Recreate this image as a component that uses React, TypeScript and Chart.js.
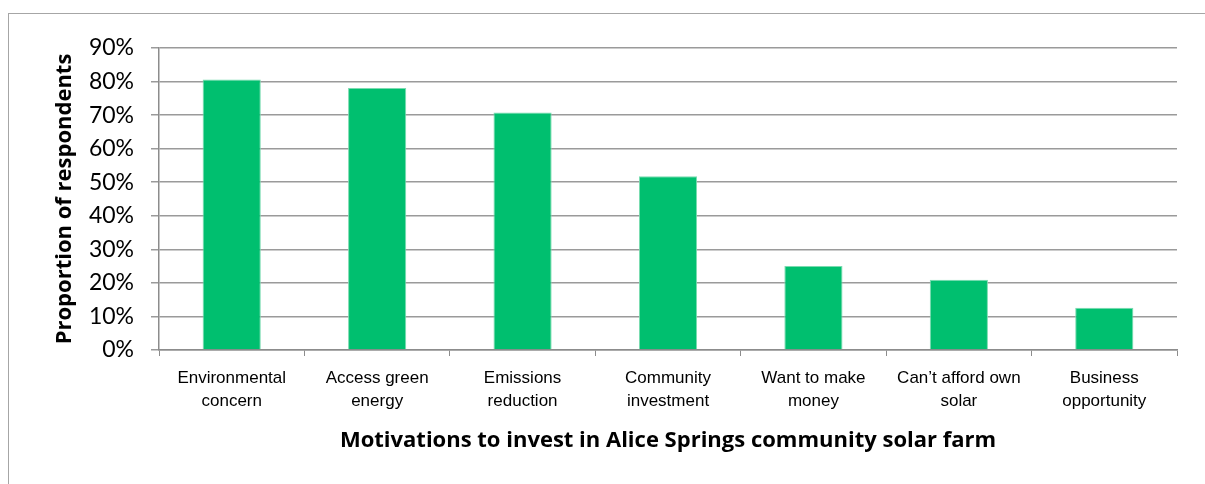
import React, { useEffect, useRef } from "react";
import { Chart, registerables } from "chart.js";

Chart.register(...registerables);

const categories: string[][] = [
  ["Environmental", "concern"],
  ["Access green", "energy"],
  ["Emissions", "reduction"],
  ["Community", "investment"],
  ["Want to make", "money"],
  ["Can\u2019t afford own", "solar"],
  ["Business", "opportunity"],
];
const values: number[] = [80.6, 78.1, 70.8, 51.8, 25.0, 20.9, 12.6];
const yTicks: number[] = [0, 10, 20, 30, 40, 50, 60, 70, 80, 90];
const xTitle = "Motivations to invest in Alice Springs community solar farm";
const yTitle = "Proportion of respondents";

export default function App() {
  const ref = useRef<HTMLCanvasElement>(null);
  useEffect(() => {
    document.body.style.margin = "0";
    document.body.style.overflow = "hidden";
    const ctx = ref.current!;
    const chart = new Chart(ctx, {
      type: "bar",
      data: {
        labels: categories,
        datasets: [
          {
            data: values,
            backgroundColor: "#00BF6F",
            borderColor: "#7ADBB0",
            borderWidth: 1,
            categoryPercentage: 1,
            barPercentage: 0.4,
          },
        ],
      },
      options: {
        animation: false,
        responsive: false,
        maintainAspectRatio: false,
        layout: { padding: { left: 40, right: 28, top: 48, bottom: 0 } },
        plugins: { legend: { display: false }, tooltip: { enabled: false } },
        scales: {
          x: {
            grid: {
              display: true,
              drawOnChartArea: false,
              offset: true,
              tickLength: 6,
              color: "#8c8c8c",
              lineWidth: 1,
            },
            border: { color: "#8c8c8c", width: 1.5 },
            ticks: {
              color: "#000",
              font: { family: "'Liberation Sans', Arial", size: 17, lineHeight: 1.35 },
              padding: 11,
              maxRotation: 0,
              autoSkip: false,
            },
            title: {
              display: true,
              text: xTitle,
              color: "#000",
              font: { family: "'Open Sans', Lato, sans-serif", size: 22, weight: "bold", lineHeight: 1.2 },
              padding: { top: 0, bottom: 30 },
            },
            afterFit: (s: any) => {
              s.height = 134;
            },
          },
          y: {
            min: 0,
            max: 90,
            afterBuildTicks: (s: any) => {
              s.ticks = yTicks.map((v) => ({ value: v }));
            },
            grid: { color: "#9a9a9a", lineWidth: 1.5, tickLength: 8 },
            border: { color: "#8c8c8c", width: 1.5 },
            ticks: {
              color: "#000",
              font: { family: "Lato, 'Open Sans', sans-serif", size: 23 },
              padding: 17,
              callback: (v: any) => v + "%",
            },
            title: {
              display: true,
              text: yTitle,
              color: "#000",
              font: { family: "'Open Sans', Lato, sans-serif", size: 22, weight: "bold", lineHeight: 1.2 },
              padding: { top: 12, bottom: 0 },
            },
            afterFit: (s: any) => {
              s.width = 119;
            },
          },
        },
      },
    });
    return () => chart.destroy();
  }, []);
  return (
    <div style={{ position: "absolute", left: 0, top: 0, width: 1205, height: 484, overflow: "hidden", background: "#fff" }}>
      <div
        style={{
          position: "absolute",
          left: 8,
          top: 13,
          width: 1300,
          height: 600,
          border: "1px solid #a6a6a6",
          boxSizing: "border-box",
        }}
      />
      <canvas ref={ref} width={1205} height={484} style={{ position: "absolute", left: 0, top: 0 }} />
    </div>
  );
}
